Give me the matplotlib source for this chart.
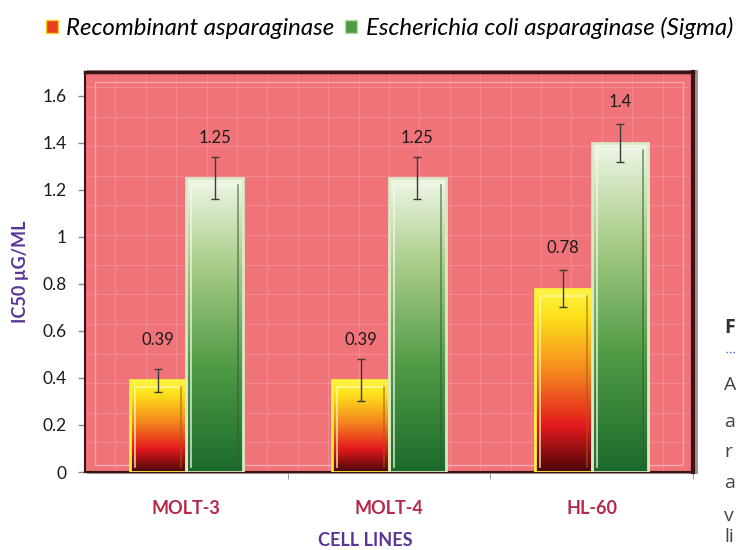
import matplotlib.pyplot as plt
import numpy as np
from matplotlib.colors import LinearSegmentedColormap
from matplotlib.patches import Rectangle, Patch
from matplotlib.ticker import FuncFormatter

cell_lines = ['MOLT-3', 'MOLT-4', 'HL-60']
recombinant = [0.39, 0.39, 0.78]
recombinant_err = [0.05, 0.09, 0.08]
ecoli = [1.25, 1.25, 1.4]
ecoli_err = [0.09, 0.09, 0.08]
series_names = ['Recombinant asparaginase', 'Escherichia coli asparaginase (Sigma)']

plt.rcParams['font.family'] = ['Lato', 'DejaVu Sans']

fire = LinearSegmentedColormap.from_list(
    'fire', [(0, '#4a0608'), (0.25, '#e3191d'), (0.55, '#f5891f'), (0.85, '#fde21a'), (1, '#fff44a')])
leaf = LinearSegmentedColormap.from_list(
    'leaf', [(0, '#1c6a2c'), (0.35, '#4f9a45'), (0.7, '#a9cc88'), (1, '#f1f7e8')])

fig = plt.figure(figsize=(7.36, 5.5), dpi=100)
ax = fig.add_axes([0.1155, 0.1418, 0.826, 0.727])
ax.set_facecolor('#f0737a')

# drop shadow behind the plot frame
fig.patches.append(Rectangle((0.1185, 0.138), 0.830, 0.735, transform=fig.transFigure,
                             facecolor='#5a3a3a', alpha=0.55, zorder=-1))

x = np.arange(len(cell_lines))
w = 0.28


def gradient_bars(xs, vals, cmap, edge, light, dark):
    bars = ax.bar(xs, vals, width=w, facecolor='none', edgecolor=edge, linewidth=2, zorder=3)
    grad = np.linspace(0, 1, 256).reshape(-1, 1)
    for b in bars:
        x0, y0 = b.get_x(), b.get_y()
        bw, bh = b.get_width(), b.get_height()
        im = ax.imshow(grad, cmap=cmap, origin='lower', aspect='auto',
                       extent=(x0, x0 + bw, y0, y0 + bh), zorder=2)
        im.set_clip_path(b)
        # bevel: light inner edge on the left/top, darker on the right
        xl, xr = x0 + bw * 0.09, x0 + bw * 0.91
        yt = y0 + bh - 0.03
        ax.plot([xl, xl, xr], [y0 + 0.02, yt, yt], color=light, lw=1.2, alpha=0.8, zorder=3)
        ax.plot([xr, xr], [yt, y0 + 0.02], color=dark, lw=1.2, alpha=0.6, zorder=3)
    return bars


gradient_bars(x - w / 2, recombinant, fire, '#fbf23a', '#fffbb0', '#a06010')
gradient_bars(x + w / 2, ecoli, leaf, '#dbe9c8', '#f4faec', '#2e5e2a')

ax.errorbar(x - w / 2, recombinant, yerr=recombinant_err, fmt='none', ecolor='#3a3a3a',
            elinewidth=1, capsize=3, zorder=4)
ax.errorbar(x + w / 2, ecoli, yerr=ecoli_err, fmt='none', ecolor='#3a3a3a',
            elinewidth=1, capsize=3, zorder=4)

for xs, vals in [(x - w / 2, recombinant), (x + w / 2, ecoli)]:
    for xi, v in zip(xs, vals):
        ax.annotate(f'{v:g}', (xi, v), xytext=(0, 29), textcoords='offset points',
                    ha='center', va='center', fontsize=12, color='#1a1a1a')

ax.set_xlim(-0.5, 2.5)
ax.set_ylim(0, 1.7)

# faint texture grid
for gx in np.arange(1, 20) / 20:
    ax.axvline(gx * 3 - 0.5, color='white', alpha=0.15, lw=0.8, zorder=1)
for gy in np.arange(1, 14) / 13.5:
    ax.axhline(gy * 1.7, color='white', alpha=0.15, lw=0.8, zorder=1)
ax.add_patch(Rectangle((0.017, 0.018), 0.966, 0.958, transform=ax.transAxes,
                       facecolor='none', edgecolor='#f8a8a8', lw=1, zorder=1))

for s in ax.spines.values():
    s.set_color('#3a1414')
    s.set_linewidth(1.5)
ax.spines['right'].set_linewidth(3)
ax.spines['top'].set_linewidth(2.5)

ax.set_yticks(np.arange(0, 1.61, 0.2))
ax.yaxis.set_major_formatter(FuncFormatter(lambda v, p: f'{v:g}'))
ax.tick_params(axis='y', labelsize=12.5, labelcolor='#1a1a1a', length=5, width=1, pad=8,
               color='#888888')
ax.set_xticks(x)
ax.set_xticklabels(cell_lines, fontsize=13, fontweight='bold', color='#b42a48')
ax.set_xticks([0.5, 1.5, 2.5], minor=True)
ax.tick_params(axis='x', which='major', length=0, pad=20)
ax.tick_params(axis='x', which='minor', length=5, color='#888888')

ax.set_ylabel('IC50 µG/ML', fontsize=13, fontweight='bold', color='#5b3596', labelpad=10)
fig.text(0.497, 0.018, 'CELL LINES', ha='center', va='center', fontsize=13,
         fontweight='bold', color='#5b3596')

handles = [Patch(facecolor='#e8401c', edgecolor='#f5d020'),
           Patch(facecolor='#4f9a45', edgecolor='#b9d9a0')]
fig.legend(handles, series_names, loc='center left', bbox_to_anchor=(0.062, 0.949), ncol=2,
           frameon=False, prop={'style': 'italic', 'size': 17.3}, handlelength=0.5,
           handleheight=0.5, handletextpad=0.35, columnspacing=0.45, borderaxespad=0,
           borderpad=0)

# fragments of the neighbouring page text
fig.text(0.984, 0.403, 'F', fontsize=14, fontweight='bold', color='#333333', family='Open Sans',
         va='center')
fig.lines.append(plt.Line2D([0.986, 1.0], [0.36, 0.36], transform=fig.transFigure,
                            color='#3a6ac0', lw=1, ls=(0, (1, 1.5))))
for t, yy in [('A', 0.3), ('a', 0.233), ('r', 0.178), ('a', 0.122), ('v', 0.062), ('li', 0.024)]:
    fig.text(0.984, yy, t, fontsize=14, color='#444444', family='Open Sans', va='center')

fig.savefig('out.png', dpi=100)
